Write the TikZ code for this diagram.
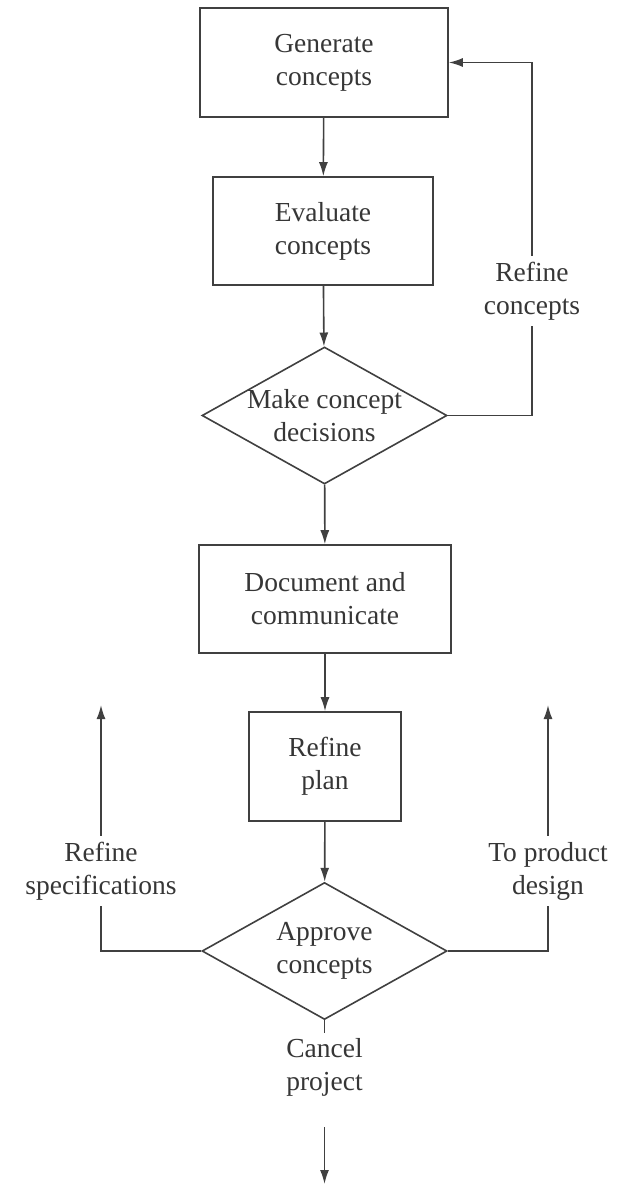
\documentclass[tikz,border=0pt]{standalone}
\usepackage{fontspec}
\setmainfont{Liberation Serif}
\usetikzlibrary{shapes.geometric,arrows.meta}

\definecolor{ink}{HTML}{363636}
\definecolor{wire}{HTML}{404040}

\tikzset{
  every node/.style={font=\fontsize{27.5}{33}\selectfont, text=ink, align=center},
  stepbox/.style={draw=wire, line width=1.6pt, rectangle, inner sep=0pt},
  decision/.style={draw=wire, line width=1.6pt, diamond, aspect=1.79, inner sep=-4pt,
                   minimum width=245pt, minimum height=137pt},
  tag/.style={inner xsep=0pt, inner ysep=6pt},
  flow/.style={draw=wire, line width=1.6pt, -{Latex[length=14pt,width=9pt]}},
  link/.style={draw=wire, line width=1.6pt}
}

\begin{document}
\begin{tikzpicture}[x=1pt, y=-1pt]
  \useasboundingbox (0,0) rectangle (625,1186);

  % main column
  \node[stepbox, minimum width=248pt, minimum height=109pt] (gen) at (324,62.5) {Generate\\concepts};
  \node[stepbox, minimum width=220pt, minimum height=108pt] (eval) at (323,231) {Evaluate\\concepts};
  \node[decision] (decide) at (324.5,415.5) {Make concept\\decisions};
  \node[stepbox, minimum width=252pt, minimum height=108pt] (doc) at (325,599) {Document and\\communicate};
  \node[stepbox, minimum width=152pt, minimum height=109pt] (plan) at (325,766.5) {Refine\\plan};
  \node[decision] (approve) at (324.5,951) {Approve\\concepts};

  % side labels
  \node[tag] (refc) at (532,291) {Refine\\concepts};
  \node[tag] (refs) at (101,871) {Refine\\specifications};
  \node[tag] (prod) at (548,871) {To product\\design};
  \node[tag, inner ysep=5pt] (cancel) at (324.5,1067) {Cancel\\project};

  % free ends of the outgoing arrows
  \coordinate (specsOut) at (101,705);
  \coordinate (prodOut) at (548,705);
  \coordinate (cancelFrom) at (324.5,1127);
  \coordinate (cancelTo) at (324.5,1184);

  % forward flow
  \draw[flow] (gen) -- (eval);
  \draw[flow] (eval) -- (decide);
  \draw[flow] (decide) -- (doc);
  \draw[flow] (doc) -- (plan);
  \draw[flow] (plan) -- (approve);

  % loop back to concept generation
  \draw[link] (decide.east) -| (refc.south);
  \draw[flow] (refc.north) |- (gen.east);

  % exits from the approval decision
  \draw[link] (approve.west) -| (refs.south);
  \draw[flow] (refs.north) -- (specsOut);
  \draw[link] (approve.east) -| (prod.south);
  \draw[flow] (prod.north) -- (prodOut);
  \draw[link] (approve.south) -- (cancel.north);
  \draw[flow] (cancelFrom) -- (cancelTo);
\end{tikzpicture}
\end{document}
